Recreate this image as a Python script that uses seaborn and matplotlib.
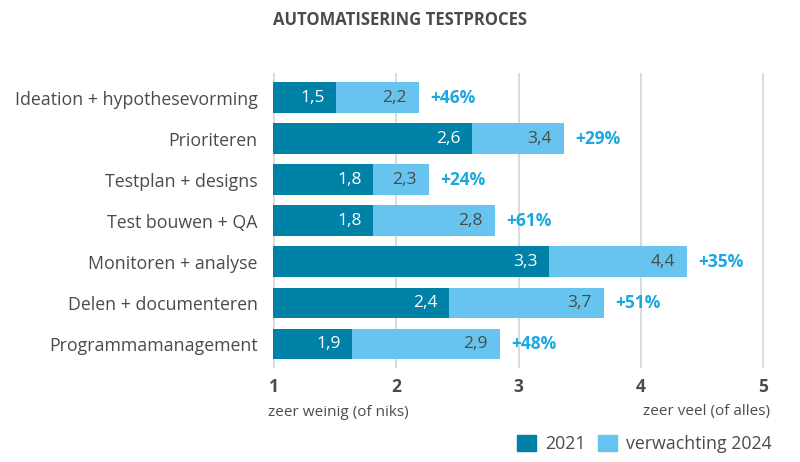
import matplotlib.pyplot as plt
import seaborn as sns
import pandas as pd
from matplotlib.patches import Patch

# categorieën en waarden (schaal 1-5)
categorieen = ['Ideation + hypothesevorming', 'Prioriteren', 'Testplan + designs',
               'Test bouwen + QA', 'Monitoren + analyse', 'Delen + documenteren',
               'Programmamanagement']
waarde_2021 = [1.51, 2.62, 1.81, 1.81, 3.25, 2.43, 1.64]
waarde_2024 = [2.19, 3.37, 2.27, 2.81, 4.38, 3.70, 2.85]
label_2021 = ['1,5', '2,6', '1,8', '1,8', '3,3', '2,4', '1,9']
label_2024 = ['2,2', '3,4', '2,3', '2,8', '4,4', '3,7', '2,9']
groei = ['+46%', '+29%', '+24%', '+61%', '+35%', '+51%', '+48%']
xticks = [1, 2, 3, 4, 5]

donker = '#0081a7'
licht = '#66c4ee'
blauw_tekst = '#1ba8e0'
grijs = '#4d4a47'

df = pd.DataFrame({'cat': categorieen, 'v2021': waarde_2021, 'v2024': waarde_2024})

sns.set_style('white')
plt.rcParams['font.family'] = ['Open Sans', 'DejaVu Sans']
plt.rcParams['text.color'] = grijs

fig = plt.figure(figsize=(8, 4.62), dpi=100)
ax = fig.add_axes([273 / 800, 1 - 368 / 462, (764 - 273) / 800, (368 - 73) / 462])

# 2024 achter, 2021 erover
sns.barplot(data=df, x='v2024', y='cat', color=licht, width=0.75, saturation=1,
            linewidth=0, ax=ax, zorder=2)
sns.barplot(data=df, x='v2021', y='cat', color=donker, width=0.75, saturation=1,
            linewidth=0, ax=ax, zorder=3)

ax.set_xlim(0.995, 5.005)
ax.set_ylim(6.585, -0.6)
ax.set_xticks(xticks)
ax.set_xticklabels([str(t) for t in xticks], fontweight='bold', fontsize=12.5, color=grijs)
ax.grid(axis='x', color='#d4d4d4', lw=1.2)
ax.grid(axis='y', visible=False)
ax.set_axisbelow(True)
for s in ax.spines.values():
    s.set_visible(False)
ax.tick_params(axis='x', length=0, pad=7)
ax.tick_params(axis='y', length=0, pad=11, labelsize=12.75, labelcolor=grijs)
ax.set_xlabel('')
ax.set_ylabel('')

for i in range(len(categorieen)):
    ax.text(waarde_2021[i] - 0.09, i, label_2021[i], ha='right', va='center',
            color='white', fontsize=12.5, zorder=4)
    ax.text(waarde_2024[i] - 0.1, i, label_2024[i], ha='right', va='center',
            color=grijs, fontsize=12.5, zorder=4)
    ax.text(waarde_2024[i] + 0.09, i, groei[i], ha='left', va='center',
            color=blauw_tekst, fontsize=12.5, fontweight='bold', zorder=4)

fig.text(0.5, 1 - 20 / 462, 'AUTOMATISERING TESTPROCES', ha='center', va='center',
         fontsize=12, fontweight='bold', color=grijs)
fig.text(268 / 800, 1 - 412 / 462, 'zeer weinig (of niks)', ha='left', va='center',
         fontsize=11, color=grijs)
fig.text(770 / 800, 1 - 412 / 462, 'zeer veel (of alles)', ha='right', va='center',
         fontsize=11, color=grijs)

handles = [Patch(color=donker, label='2021'), Patch(color=licht, label='verwachting 2024')]
fig.legend(handles=handles, ncol=2, loc='center right', bbox_to_anchor=(772 / 800, 1 - 444 / 462),
           frameon=False, fontsize=12.8, handlelength=1.07, handleheight=1.0,
           handletextpad=0.5, columnspacing=0.73, borderpad=0, borderaxespad=0)

fig.savefig('out.png', dpi=100)
